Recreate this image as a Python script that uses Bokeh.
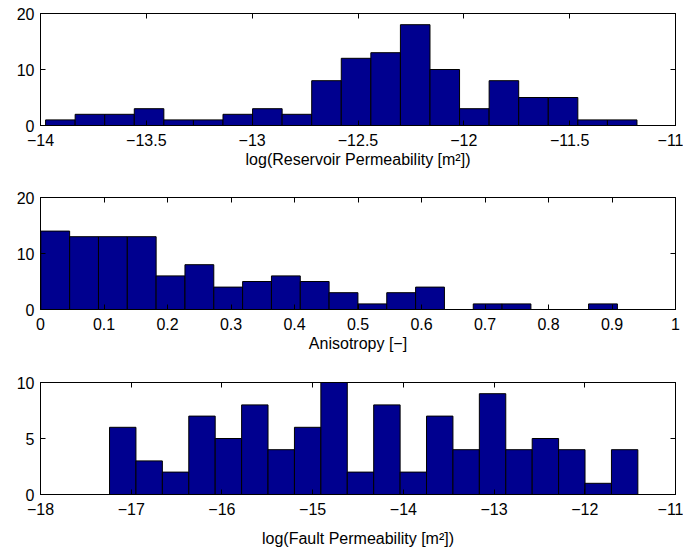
import numpy as np
from bokeh.plotting import figure
from bokeh.layouts import column
from bokeh.models import Range1d, LinearAxis, FixedTicker, CustomJSTickFormatter
from bokeh.embed import file_html
from bokeh.resources import INLINE

# ---- data ----
res_counts = [1, 2, 2, 3, 1, 1, 2, 3, 2, 8, 12, 13, 18, 10, 3, 8, 5, 5, 1, 1]
res_lo, res_hi = -13.976, -11.182
res_xticks = [-14, -13.5, -13, -12.5, -12, -11.5, -11]
res_yticks = [0, 10, 20]

ani_counts = [14, 13, 13, 13, 6, 8, 4, 5, 6, 5, 3, 1, 3, 4, 0, 1, 1, 0, 0, 1]
ani_lo, ani_hi = 0.0005, 0.9085
ani_xticks = [0, 0.1, 0.2, 0.3, 0.4, 0.5, 0.6, 0.7, 0.8, 0.9, 1]
ani_yticks = [0, 10, 20]

flt_counts = [6, 3, 2, 7, 5, 8, 4, 6, 10, 2, 8, 2, 7, 4, 9, 4, 5, 4, 1, 4]
flt_lo, flt_hi = -17.239, -11.415
flt_xticks = [-18, -17, -16, -15, -14, -13, -12, -11]
flt_yticks = [0, 5, 10]

FONT = "Liberation Sans"
FS = "16px"
BAR = "#00008F"

fmt_js = "return tick.toString().replace('-', '\u2212');"


def make_panel(counts, lo, hi, xr, yr, xticks, yticks, label, top, bottom, label_standoff):
    edges = np.linspace(lo, hi, len(counts) + 1)
    p = figure(width=683, height=top + 112 + bottom, output_backend="svg",
               toolbar_location=None, x_axis_location=None, y_axis_location=None,
               x_range=Range1d(*xr), y_range=Range1d(*yr),
               min_border_left=40, min_border_right=8,
               min_border_top=top, min_border_bottom=bottom)
    p.grid.visible = False
    p.outline_line_color = "black"
    p.background_fill_color = "white"
    p.border_fill_color = "white"

    p.quad(left=edges[:-1], right=edges[1:], bottom=0, top=counts,
           fill_color=BAR, line_color="black", line_width=1)

    def style(ax, labels=True):
        ax.axis_line_color = "black"
        ax.major_tick_line_color = "black"
        ax.major_tick_in = 5
        ax.major_tick_out = 0
        ax.minor_tick_line_color = None
        ax.major_label_text_font = FONT
        if labels:
            ax.major_label_text_font_size = FS
            ax.major_label_text_color = "black"
            ax.formatter = CustomJSTickFormatter(code=fmt_js)
        else:
            ax.major_label_text_font_size = "1px"
            ax.major_label_text_color = None
            ax.major_label_standoff = 0

    xb = LinearAxis(ticker=FixedTicker(ticks=xticks), axis_label=label)
    style(xb)
    xb.major_label_standoff = 8
    xb.axis_label_text_font = FONT
    xb.axis_label_text_font_size = FS
    xb.axis_label_text_font_style = "normal"
    xb.axis_label_text_color = "black"
    xb.axis_label_standoff = label_standoff
    p.add_layout(xb, "below")

    yl = LinearAxis(ticker=FixedTicker(ticks=yticks))
    style(yl)
    yl.major_label_standoff = 6
    p.add_layout(yl, "left")

    xt = LinearAxis(ticker=FixedTicker(ticks=xticks))
    style(xt, labels=False)
    p.add_layout(xt, "above")

    yr_ax = LinearAxis(ticker=FixedTicker(ticks=yticks))
    style(yr_ax, labels=False)
    p.add_layout(yr_ax, "right")
    return p


p1 = make_panel(res_counts, res_lo, res_hi, (-14, -11), (0, 20), res_xticks, res_yticks,
                "log(Reservoir Permeability [m\u00b2])", 13, 59, 2)
p2 = make_panel(ani_counts, ani_lo, ani_hi, (0, 1), (0, 20), ani_xticks, ani_yticks,
                "Anisotropy [\u2212]", 13, 59, 2)
p3 = make_panel(flt_counts, flt_lo, flt_hi, (-18, -11), (0, 10), flt_xticks, flt_yticks,
                "log(Fault Permeability [m\u00b2])", 14, 58, 12)

layout = column(p1, p2, p3, spacing=0)
open("out.html", "w").write(file_html(layout, INLINE))
